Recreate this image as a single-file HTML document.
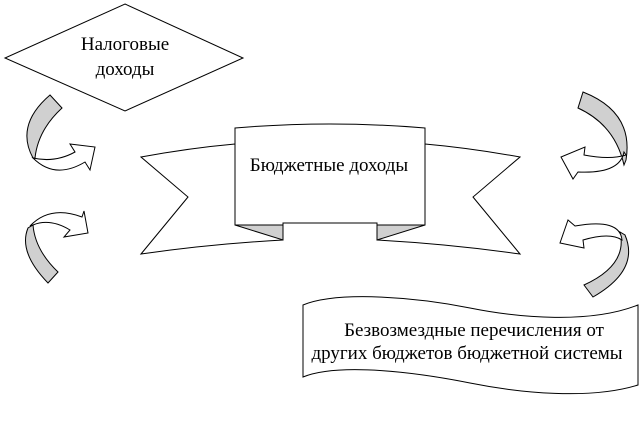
<!DOCTYPE html>
<html><head><meta charset="utf-8"><style>
html,body{margin:0;padding:0;background:#fff;}
svg{display:block;}
text{font-family:"Liberation Serif","DejaVu Serif",serif;fill:#000;}
</style></head><body>
<svg width="643" height="427" viewBox="0 0 643 427" xmlns="http://www.w3.org/2000/svg">
<g stroke="#000" stroke-width="1" fill="#fff">
<polygon points="125,4 243,58 125,111 5,58"/>
<path d="M235,144 Q190,148 141,157 L188,197 L141,254 Q210,244 283,240 L283,223 L235,225 Z"/>
<path d="M425,144 Q470,148 520,157 L473,197 L520,254 Q450,244 377,240 L377,223 L425,225 Z"/>
<polygon points="235,225 283,240 283,223" fill="#d0d0d0"/>
<polygon points="425,225 377,240 377,223" fill="#d0d0d0"/>
<path d="M235,128 Q330,120 425,128 L425,225 L377,225 L377,223 L283,223 L283,225 L235,225 Z"/>
<path d="M50,95 L62,108 Q38,130 35,158 L33,158 Q15,125 50,95 Z" fill="#d0d0d0"/>
<path d="M33,158 Q55,163 75,152 L70,144 L95,147 L90,170 L85,162 Q55,180 33,158 Z"/>
<path d="M28,228 Q18,252 48,283 L58,272 Q35,250 33,225 Z" fill="#d0d0d0"/>
<path d="M30,226 Q50,205 82,217 L84,211 L88,233 L64,237 L70,230 Q50,218 33,225 Z"/>
<path d="M583,92 Q634,112 626,160 L624,165 Q615,125 578,108 Z" fill="#d0d0d0"/>
<path d="M626,155 Q610,160 584,155 L585,147 L561,157 L573,179 L578,172 Q620,174 624,152 Z"/>
<path d="M620,232 Q628,265 584,285 L593,297 Q640,270 625,235 Z" fill="#d0d0d0"/>
<path d="M568,220 L560,243 L584,248 L583,240 Q610,232 622,240 Q620,218 575,226 Z"/>
<path d="M303,305 C340,290 420,298 470,308 C520,318 590,324 638,305 L638,385 C590,400 520,393 470,383 C420,373 340,362 303,377 Z"/>
</g>
<g font-size="19" text-anchor="middle">
<text x="125" y="50">Налоговые</text>
<text x="125" y="75">доходы</text>
<text x="329" y="171">Бюджетные доходы</text>
<text x="474" y="336">Безвозмездные перечисления от</text>
<text x="467" y="359">других бюджетов бюджетной системы</text>
</g>
</svg>
</body></html>
